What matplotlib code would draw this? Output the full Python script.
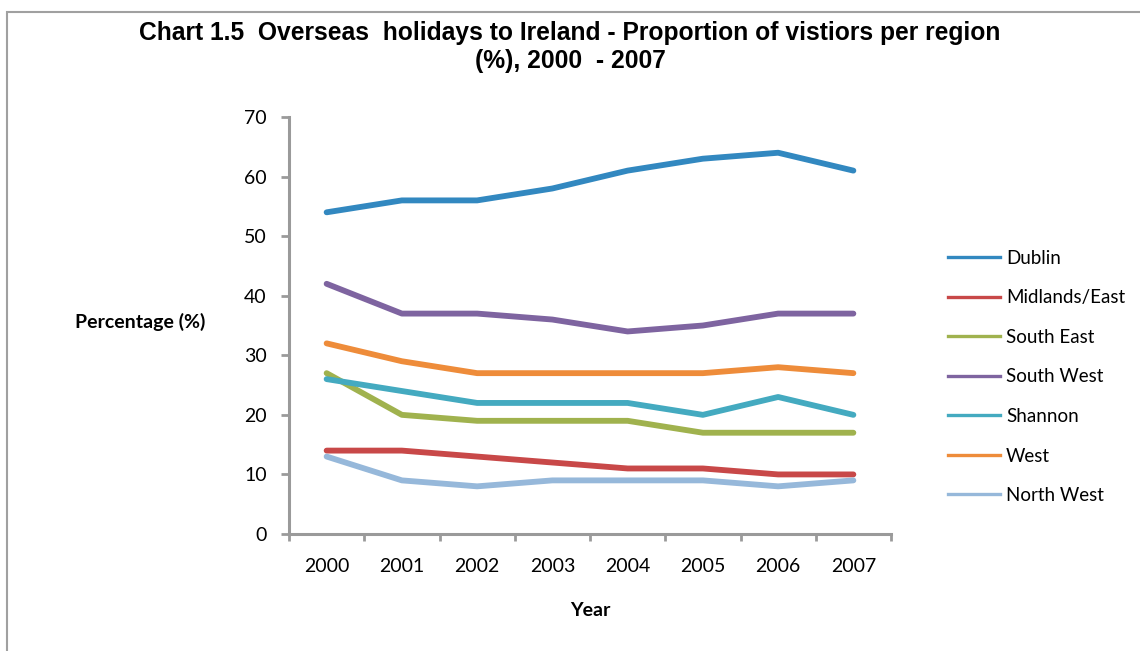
import matplotlib
matplotlib.use("Agg")
import matplotlib.pyplot as plt
from matplotlib.patches import Rectangle
from matplotlib.lines import Line2D

years = ["2000", "2001", "2002", "2003", "2004", "2005", "2006", "2007"]

dublin = [54, 56, 56, 58, 61, 63, 64, 61]
midlands_east = [14, 14, 13, 12, 11, 11, 10, 10]
south_east = [27, 20, 19, 19, 19, 17, 17, 17]
south_west = [42, 37, 37, 36, 34, 35, 37, 37]
shannon = [26, 24, 22, 22, 22, 20, 23, 20]
west = [32, 29, 27, 27, 27, 27, 28, 27]
north_west = [13, 9, 8, 9, 9, 9, 8, 9]

region_names = ["Dublin", "Midlands/East", "South East", "South West",
                "Shannon", "West", "North West"]
region_values = [dublin, midlands_east, south_east, south_west,
                 shannon, west, north_west]
region_colors = ["#3288C0", "#C84848", "#A0B24E", "#7E64A0",
                 "#44AAC0", "#EE8C3A", "#96B8DA"]

y_ticks = [0, 10, 20, 30, 40, 50, 60, 70]

TICK_FONT = "Lato"
AXIS_GRAY = "#9a9a9a"

fig = plt.figure(figsize=(11.4, 6.51), dpi=100)
fig.patch.set_facecolor("white")

# chart frame (only top and left edges visible in the crop)
fig.add_artist(Rectangle((7 / 1140, -0.1), 1.2, 1 - 12 / 651 + 0.1,
                         transform=fig.transFigure, fill=False,
                         edgecolor="#a0a0a0", linewidth=1.5))

ax = fig.add_axes([289 / 1140, 1 - 534 / 651, 602 / 1140, 417 / 651])

x = list(range(len(years)))
handles = []
for name, vals, col in zip(region_names, region_values, region_colors):
    ax.plot(x, vals, color=col, linewidth=4.2, solid_capstyle="round",
            solid_joinstyle="round", zorder=3)
    handles.append(Line2D([0], [0], color=col, linewidth=2.4, label=name))

ax.set_xlim(-0.5, len(years) - 0.5)
ax.set_ylim(0, 70)
ax.set_yticks(y_ticks)
ax.set_yticklabels([str(t) for t in y_ticks], fontfamily=TICK_FONT, fontsize=14)
ax.set_xticks(x)
ax.set_xticklabels(years, fontfamily=TICK_FONT, fontsize=14)
ax.set_xticks([i - 0.5 for i in range(len(years) + 1)], minor=True)

ax.tick_params(axis="x", which="major", length=0, pad=17)
ax.tick_params(axis="x", which="minor", length=5, width=2, color=AXIS_GRAY,
               direction="out")
ax.tick_params(axis="y", which="major", length=6, width=2, color=AXIS_GRAY,
               direction="out", pad=10)

for side in ["top", "right"]:
    ax.spines[side].set_visible(False)
for side in ["left", "bottom"]:
    ax.spines[side].set_color(AXIS_GRAY)
    ax.spines[side].set_linewidth(2.2)

fig.text(140 / 1140, 1 - 322 / 651, "Percentage (%)", fontfamily=TICK_FONT,
         fontweight="bold", fontsize=14, ha="center", va="center")
fig.text(590 / 1140, 1 - 610 / 651, "Year", fontfamily=TICK_FONT,
         fontweight="bold", fontsize=14, ha="center", va="center")

fig.text(570 / 1140, 1 - 47 / 651,
         "Chart 1.5  Overseas  holidays to Ireland - Proportion of vistiors per region\n(%), 2000  - 2007",
         fontfamily="Liberation Sans", fontweight="bold", fontsize=17.7,
         ha="center", va="center", linespacing=1.22)

leg = fig.legend(handles=handles, loc="upper left",
                 bbox_to_anchor=(948 / 1140, 1 - 250 / 651),
                 frameon=False, prop={"family": TICK_FONT, "size": 13.5},
                 handlelength=2.75, handletextpad=0.35, labelspacing=1.2,
                 borderaxespad=0, borderpad=0)

fig.savefig("out.png", dpi=100)
